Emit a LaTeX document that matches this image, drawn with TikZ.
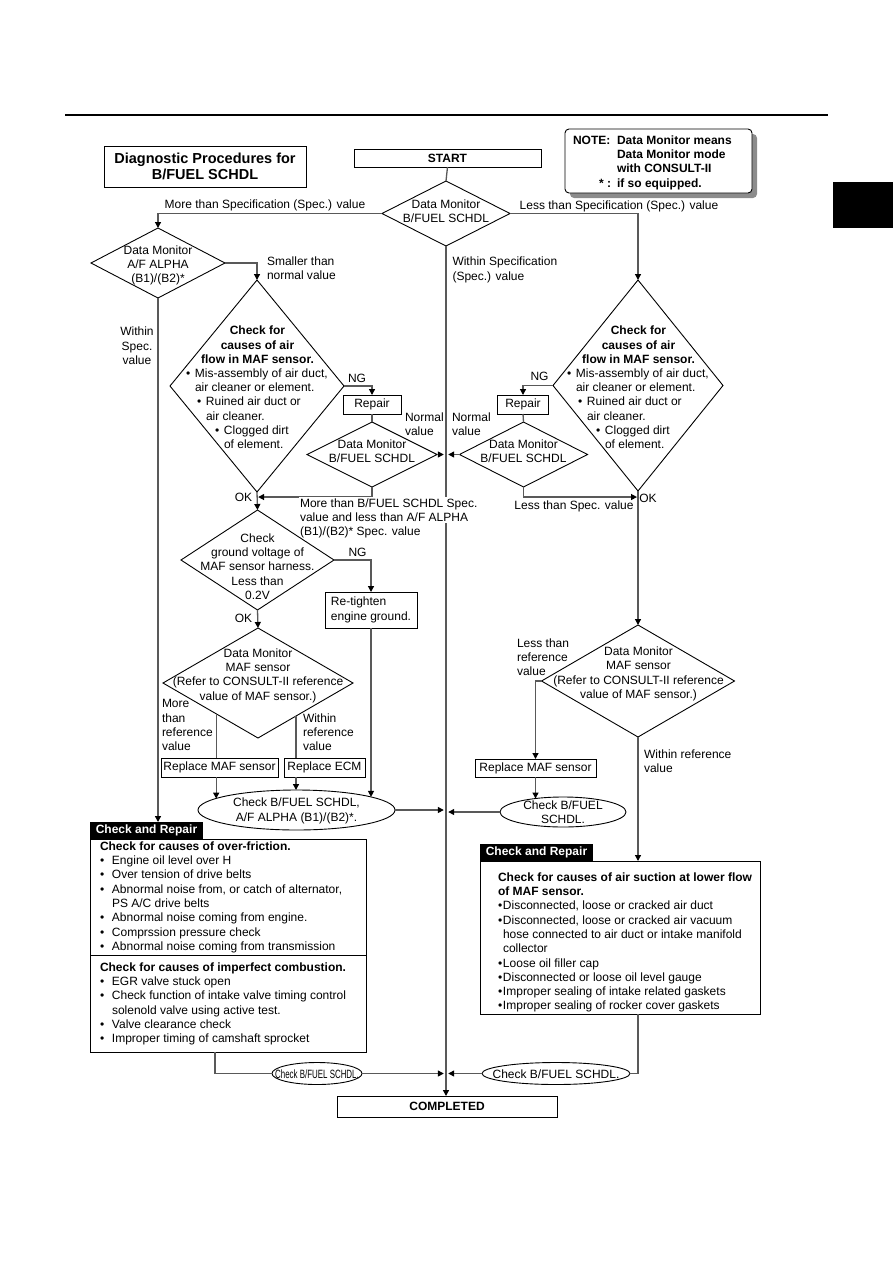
\documentclass[tikz,border=0pt]{standalone}
\usepackage{fontspec}
\usepackage{graphicx}
\setmainfont{Liberation Sans}
\usetikzlibrary{shapes.geometric,arrows.meta,calc}
\newcommand{\fsz}{\fontsize{12}{14.3}\selectfont}
\newcommand{\bul}{\makebox[9pt][l]{•}}
\newcommand{\bulB}{\makebox[12pt][l]{•}}
\newcommand{\bulC}{\makebox[5pt][l]{•}}
\begin{document}
\begin{tikzpicture}[x=1pt,y=-1pt,
  every node/.style={font=\fsz, inner sep=0pt, outer sep=0pt},
  shp/.style={draw=black, line width=0.9pt},
  boxn/.style={shp, rectangle},
  dia/.style={shp, diamond},
  ell/.style={shp, ellipse},
  conn/.style={draw=black!65, line width=1.3pt},
  arr/.style={conn, -{Triangle[length=6pt,width=6pt,color=black]}},
  bold/.style={font=\fsz\bfseries},
  hdr/.style={fill=black, text=white, font=\fsz\bfseries, minimum width=113, minimum height=17}]
\useasboundingbox (0,0) rectangle (893,1263);

% page furniture
\draw[line width=2pt] (65,115) -- (828,115);
\fill[black] (833,182) rectangle (893,228);

% title and note
\node[boxn, minimum width=202, minimum height=41, align=center,
      font=\fontsize{14.5}{16.3}\selectfont\bfseries] (title) at (205,166.5) {Diagnostic Procedures for\\B/FUEL SCHDL};
\fill[black!45, rounded corners=4] (570,134) rectangle (757,198);
\node[boxn, rounded corners=4, fill=white, minimum width=187, minimum height=64] (note) at (658.5,161) {};
\node[bold, anchor=west] (noteA) at (573,140) {NOTE:};
\node[bold, anchor=north west, align=left] (noteB) at (617,135.5) {Data Monitor means\\Data Monitor mode\\with CONSULT-II\\if so equipped.};
\node[bold, anchor=west] (noteC) at (599,183.5) {* :};

% main nodes
\node[boxn, minimum width=187, minimum height=18, bold] (start) at (447.5,158) {START};
\node[dia, minimum width=128, minimum height=65] (d1) at (446,213.5) {};
\node[align=center] (d1t) at (446,211) {Data Monitor\\B/FUEL SCHDL};

\node[dia, minimum width=134, minimum height=70] (dl) at (158,263) {};
\node[align=center] (dlt) at (158,265.5) {Data Monitor\\A/F ALPHA\\(B1)/(B2)*};

\node[dia, minimum width=174, minimum height=212] (mafL) at (257,386) {};
\node[bold, align=center] (mafLt) at (257.5,345) {Check for\\causes of air\\flow in MAF sensor.};
\node[anchor=north west, align=left] (mafLb) at (186,368.5) {\bul Mis-assembly of air duct,\\\hspace*{9pt}air cleaner or element.\\\hspace*{11pt}\bul Ruined air duct or\\\hspace*{20pt}air cleaner.\\\hspace*{29pt}\bul Clogged dirt\\\hspace*{38pt}of element.};

\node[dia, minimum width=170, minimum height=211] (mafR) at (638,385.5) {};
\node[bold, align=center] (mafRt) at (638.5,345) {Check for\\causes of air\\flow in MAF sensor.};
\node[anchor=north west, align=left] (mafRb) at (567,368.5) {\bul Mis-assembly of air duct,\\\hspace*{9pt}air cleaner or element.\\\hspace*{11pt}\bul Ruined air duct or\\\hspace*{20pt}air cleaner.\\\hspace*{29pt}\bul Clogged dirt\\\hspace*{38pt}of element.};

\node[boxn, minimum width=58, minimum height=19] (repL) at (372,404.5) {Repair};
\node[boxn, minimum width=51, minimum height=19] (repR) at (523,404.5) {Repair};

\node[dia, minimum width=130, minimum height=65] (smL) at (372,454.5) {};
\node[align=center] (smLt) at (372,451.5) {Data Monitor\\B/FUEL SCHDL};
\node[dia, minimum width=128, minimum height=65] (smR) at (523.5,454.5) {};
\node[align=center] (smRt) at (523.5,451.5) {Data Monitor\\B/FUEL SCHDL};

\node[dia, minimum width=153, minimum height=100] (gd) at (257.5,560) {};
\node[align=center] (gdt) at (257.5,566.5) {Check\\ground voltage of\\MAF sensor harness.\\Less than\\0.2V};

\node[boxn, minimum width=92, minimum height=36, align=left] (rt) at (371,610) {Re-tighten\\engine ground.};

\node[dia, minimum width=190, minimum height=110] (mafML) at (258,683) {};
\node[align=center] (mafMLt) at (258,675.5) {Data Monitor\\MAF sensor\\(Refer to CONSULT-II reference\\value of MAF sensor.)};
\node[dia, minimum width=193, minimum height=112] (mafMR) at (638,681) {};
\node[align=center] (mafMRt) at (638.5,674) {Data Monitor\\MAF sensor\\(Refer to CONSULT-II reference\\value of MAF sensor.)};

\node[boxn, minimum width=117, minimum height=19] (rmL) at (219.5,767.5) {Replace MAF sensor};
\node[boxn, minimum width=81, minimum height=19] (recm) at (324.5,767.5) {Replace ECM};
\node[boxn, minimum width=121, minimum height=18] (rmR) at (535.5,768) {Replace MAF sensor};

\node[ell, minimum width=197, minimum height=40] (cm) at (296.5,810) {};
\node[align=center] (cmt) at (296.5,811) {Check B/FUEL SCHDL,\\A/F ALPHA (B1)/(B2)*.};
\node[ell, minimum width=126, minimum height=30] (rc) at (563,812) {};
\node[align=center] (rct) at (563,812.5) {Check B/FUEL\\SCHDL.};

% check and repair boxes
\node[boxn, minimum width=276, minimum height=213] (crL) at (228,945.5) {};
\node[hdr] (crLh) at (146.5,830.5) {Check and Repair};
\draw[line width=0.9pt] ($(crL.north west)+(0,116)$) -- ($(crL.north east)+(0,116)$);
\node[anchor=north west, align=left] (crLa) at (100,841.5) {{\bfseries Check for causes of over-friction.}\\\bulB Engine oil level over H\\\bulB Over tension of drive belts\\\bulB Abnormal noise from, or catch of alternator,\\\hspace*{12pt}PS A/C drive belts\\\bulB Abnormal noise coming from engine.\\\bulB Comprssion pressure check\\\bulB Abnormal noise coming from transmission};
\node[anchor=north west, align=left] (crLb) at (100,962.5) {{\bfseries Check for causes of imperfect combustion.}\\\bulB EGR valve stuck open\\\bulB Check function of intake valve timing control\\\hspace*{12pt}solenold valve using active test.\\\bulB Valve clearance check\\\bulB Improper timing of camshaft sprocket};

\node[boxn, minimum width=280, minimum height=153] (crR) at (620,937.5) {};
\node[hdr] (crRh) at (536.5,852.5) {Check and Repair};
\node[anchor=north west, align=left] (crRa) at (498,872.5) {{\bfseries Check for causes of air suction at lower flow}\\{\bfseries of MAF sensor.}\\\bulC Disconnected, loose or cracked air duct\\\bulC Disconnected, loose or cracked air vacuum\\\hspace*{5pt}hose connected to air duct or intake manifold\\\hspace*{5pt}collector\\\bulC Loose oil filler cap\\\bulC Disconnected or loose oil level gauge\\\bulC Improper sealing of intake related gaskets\\\bulC Improper sealing of rocker cover gaskets};

\node[ell, minimum width=90, minimum height=22] (bL) at (317,1073.5) {};
\node (bLt) at (317,1074) {\scalebox{0.66}[1]{Check B/FUEL SCHDL.}};
\node[ell, minimum width=148, minimum height=22] (bR) at (556,1073.5) {};
\node (bRt) at (556,1074) {Check B/FUEL SCHDL.};

\node[boxn, minimum width=220, minimum height=21, bold] (done) at (447,1106.5) {COMPLETED};

% connectors
\coordinate (cl) at (446,0);
\draw[conn] (start.south) -- (d1.north);
\draw[arr] (d1.south) -- (d1.south |- done.north);
\draw[arr] (d1.west) -| (dl.north);
\draw[arr] (d1.east) -| (mafR.north);
\draw[arr] (dl.east) -| (mafL.north);
\draw[arr] (dl.south) -- (dl.south |- crLh.north);
\draw[arr] (mafL.east) -| (repL.north);
\draw[conn] (repL.south) -- (smL.north);
\draw[arr, shorten >=2.2pt] (smL.east) -- (smL.east -| cl);
\coordinate (okL) at ($(mafL.south)!0.28!(gd.north)$);
\draw[arr, shorten >=1pt] (smL.south) |- (okL);
\draw[arr] (mafL.south) -- (gd.north);
\draw[arr] (mafR.west) -| (repR.north);
\draw[conn] (repR.south) -- (smR.north);
\draw[arr, shorten >=2.2pt] (smR.west) -- (smR.west -| cl);
\coordinate (okR) at ($(mafR.south)!0.045!(mafMR.north)$);
\draw[arr, shorten >=1pt] (smR.south) |- (okR);
\draw[arr] (mafR.south) -- (mafMR.north);
\draw[arr] (gd.east) -| (rt.north);
\draw[arr] (gd.south) -- (mafML.north);
\draw[arr] (rt.south) -- (rt.south |- cm.10);
\coordinate (mlA) at ($(mafML.west)!0.56!(mafML.south)$);
\coordinate (mlB) at ($(mafML.south)!0.4!(mafML.east)$);
\draw[conn] (mlA) -- (mlA |- rmL.north);
\draw[arr] (mlA |- rmL.south) -- (mlA |- cm.172);
\draw[conn] (mlB) -- (mlB |- recm.north);
\draw[arr] (mlB |- recm.south) -- (mlB |- cm.north);
\draw[arr, shorten >=2.2pt] (cm.east) -- (cm.east -| cl);
\draw[arr] (mafMR.west) -| (rmR.north);
\draw[arr] (rmR.south) -- (rmR.south |- rc.154);
\draw[arr, shorten >=2.2pt] (rc.west) -- (rc.west -| cl);
\draw[arr] (mafMR.south) -- (mafMR.south |- crR.north);
\draw[conn] (mafMR.south |- crR.south) |- (bR.east);
\draw[arr, shorten >=2.2pt] (bR.west) -- (bR.west -| cl);
\coordinate (crLb) at ($(crL.south west)!0.453!(crL.south east)$);
\draw[conn] (crLb) |- (bL.west);
\draw[arr, shorten >=2.2pt] (bL.east) -- (bL.east -| cl);

% connector labels
\node (lMore) at (265,205) {More than Specification (Spec.) value};
\node (lLess) at (619,206) {Less than Specification (Spec.) value};
\node[anchor=west, align=left] (lWithin) at (452.5,270) {Within Specification\\(Spec.) value};
\node[anchor=west, align=left] (lSmall) at (267,268) {Smaller than\\normal value};
\node[align=center] (lWs) at (137,346) {Within\\Spec.\\value};
\node (lNG1) at (357,378) {NG};
\node (lNG2) at (539.5,376) {NG};
\node[anchor=west, align=left] (lNv1) at (405,424) {Normal\\value};
\node[anchor=west, align=left] (lNv2) at (452,424) {Normal\\value};
\node (lOK1) at (243.5,497) {OK};
\node (lOK2) at (648,498) {OK};
\node[anchor=north west, align=left, fill=white, inner sep=1.5pt] (lMid1) at (298.5,497) {More than B/FUEL SCHDL Spec.\\value and less than A/F ALPHA};
\node[anchor=west] (lMid2) at (300,532) {(B1)/(B2)* Spec. value};
\node (lLs) at (574,506) {Less than Spec. value};
\node (lNG3) at (357.5,552) {NG};
\node (lOK3) at (243.5,618) {OK};
\node[anchor=north west, align=left] (lMr) at (162,699.5) {More\\than\\reference\\value};
\node[anchor=north west, align=left] (lWr) at (303,713.5) {Within\\reference\\value};
\node[anchor=north west, align=left] (lLr) at (517,638.5) {Less than\\reference\\value};
\node[anchor=north west, align=left] (lWr2) at (644,749.5) {Within reference\\value};
\end{tikzpicture}
\end{document}
